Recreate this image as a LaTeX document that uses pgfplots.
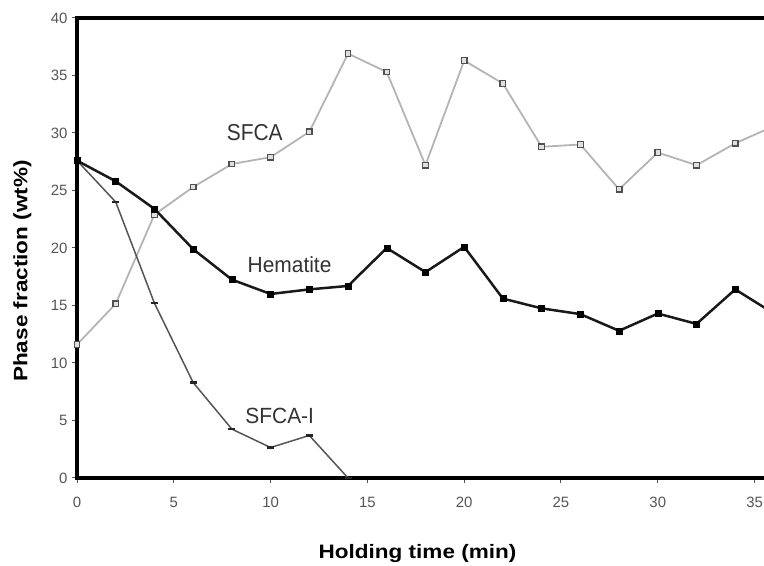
\documentclass[border=0pt]{standalone}
\usepackage{pgfplots}
\pgfplotsset{compat=1.18}
\usepackage{fontspec}
\setmainfont{Liberation Sans}

\definecolor{sfcaline}{HTML}{B4B4B4}
\definecolor{sfcamark}{HTML}{505050}
\definecolor{sfcailine}{HTML}{555555}
\definecolor{tickgray}{HTML}{555555}

\begin{document}
\begin{tikzpicture}[x=1bp,y=1bp]
\path[use as bounding box] (0,0) rectangle (764,566);
\begin{axis}[
  at={(77bp,88bp)}, anchor=south west,
  scale only axis,
  width=716.3bp, height=460bp,
  xmin=0, xmax=37, ymin=0, ymax=40,
  xtick={0,5,...,35}, ytick={0,5,...,40},
  tick pos=left,
  tick align=outside,
  major tick length=5bp,
  tick style={tickgray, line width=1bp},
  axis line style={black, line width=3.2bp},
  tick label style={font=\fontsize{15}{17}\selectfont, text=tickgray},
  /pgf/number format/assume math mode=true,
  yticklabel style={xshift=-1bp},
  xticklabel style={yshift=-11bp},
]
% SFCA
\addplot[sfcaline, line width=1.8bp, mark=square*, mark size=2.8bp,
  mark options={draw=sfcamark, fill=white!75!gray, line width=1.3bp}]
  coordinates {
  (0,11.6) (2,15.15) (4,22.9) (6,25.3) (8,27.3) (10,27.9) (12,30.1)
  (14,36.9) (16,35.3) (18,27.2) (20,36.3) (22,34.3) (24,28.8) (26,29.0)
  (28,25.1) (30,28.3) (32,27.2) (34,29.1) (36,30.6)};
% SFCA-I
\addplot[sfcailine, line width=1.5bp, mark=-, mark size=3.5bp,
  mark options={line width=2.2bp, draw=black!85}]
  coordinates {
  (0,27.6) (2,24.0) (4,15.2) (6,8.3) (8,4.25) (10,2.65) (12,3.7) (14,0)};
% Hematite
\addplot[black!90, line width=2.5bp, mark=square*, mark size=3bp,
  mark options={fill=black, draw=black, line width=0.5bp}]
  coordinates {
  (0,27.6) (2,25.8) (4,23.4) (6,19.9) (8,17.25) (10,16.0) (12,16.4)
  (14,16.7) (16,20.0) (18,17.9) (20,20.1) (22,15.6) (24,14.75) (26,14.25)
  (28,12.8) (30,14.3) (32,13.4) (34,16.4) (36,14.3)};

\node[font=\fontsize{21}{24}\selectfont, text=black!80] at (axis cs:9.18,30.04) {\scalebox{1}[1.1]{SFCA}};
\node[font=\fontsize{21}{24}\selectfont, text=black!80] at (axis cs:10.98,18.55) {\scalebox{1}[1.05]{Hematite}};
\node[font=\fontsize{21}{24}\selectfont, text=black!80] at (axis cs:10.47,5.43) {\scalebox{1}[1.05]{SFCA-I}};
\end{axis}
\node[anchor=base, font=\bfseries\fontsize{19.5}{22}\selectfont]
  at (417.5,7.7) {\scalebox{1.16}[1]{Holding time (min)}};
\node[anchor=base, rotate=90, font=\bfseries\fontsize{19.5}{22}\selectfont]
  at (27.3,295) {\scalebox{1.16}[1]{Phase fraction (wt\%)}};
\end{tikzpicture}
\end{document}
